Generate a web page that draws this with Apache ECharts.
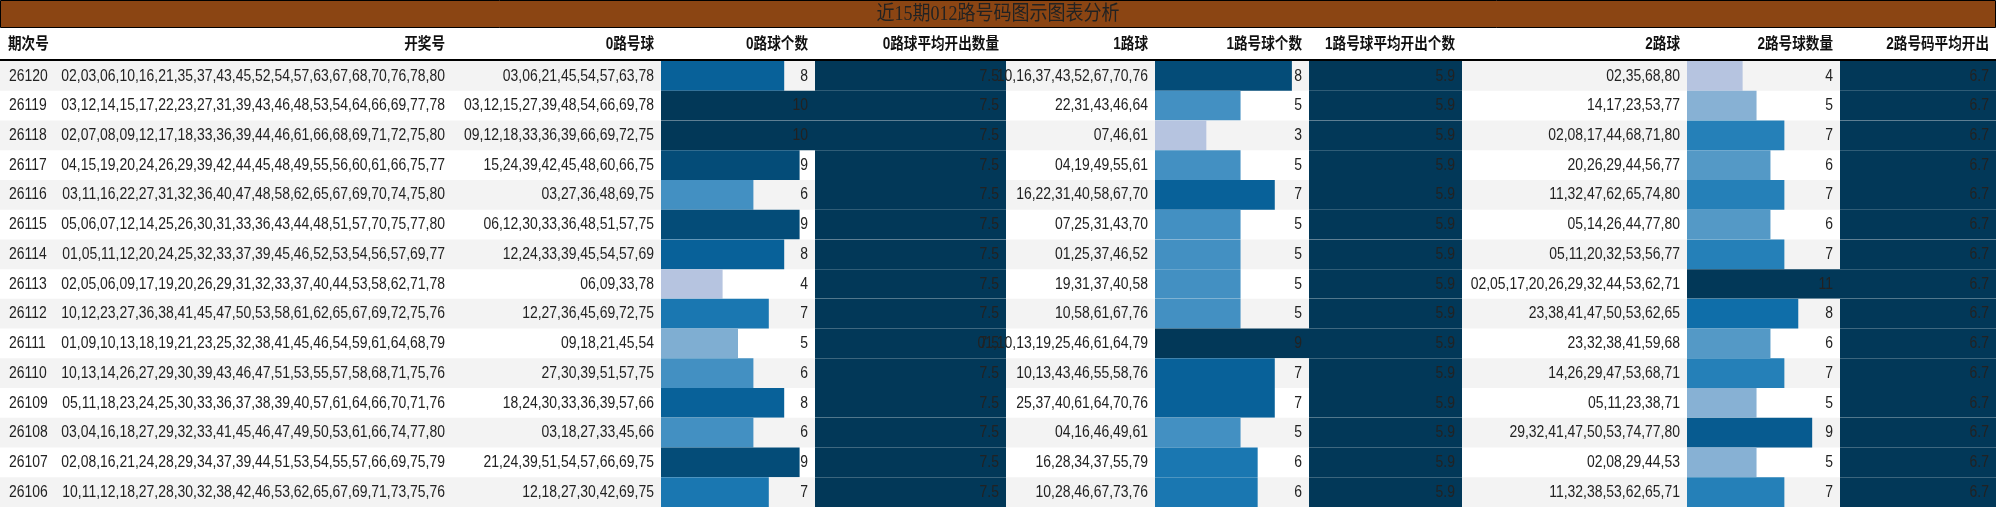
<!DOCTYPE html>
<html><head><meta charset="utf-8">
<script src="https://cdn.jsdelivr.net/npm/echarts@6/dist/echarts.min.js"></script>
<style>html,body{margin:0;padding:0;background:#fff}#c{width:1996px;height:514px}</style>
</head><body><div id="c"></div>
<script>
const titleText = '近15期012路号码图示图表分析';
const headers = ['期次号','开奖号','0路号球','0路球个数','0路球平均开出数量','1路球','1路号球个数','1路号球平均开出个数','2路球','2路号球数量','2路号码平均开出'];
const periods = ['26120','26119','26118','26117','26116','26115','26114','26113','26112','26111','26110','26109','26108','26107','26106'];
const draws = [
'02,03,06,10,16,21,35,37,43,45,52,54,57,63,67,68,70,76,78,80',
'03,12,14,15,17,22,23,27,31,39,43,46,48,53,54,64,66,69,77,78',
'02,07,08,09,12,17,18,33,36,39,44,46,61,66,68,69,71,72,75,80',
'04,15,19,20,24,26,29,39,42,44,45,48,49,55,56,60,61,66,75,77',
'03,11,16,22,27,31,32,36,40,47,48,58,62,65,67,69,70,74,75,80',
'05,06,07,12,14,25,26,30,31,33,36,43,44,48,51,57,70,75,77,80',
'01,05,11,12,20,24,25,32,33,37,39,45,46,52,53,54,56,57,69,77',
'02,05,06,09,17,19,20,26,29,31,32,33,37,40,44,53,58,62,71,78',
'10,12,23,27,36,38,41,45,47,50,53,58,61,62,65,67,69,72,75,76',
'01,09,10,13,18,19,21,23,25,32,38,41,45,46,54,59,61,64,68,79',
'10,13,14,26,27,29,30,39,43,46,47,51,53,55,57,58,68,71,75,76',
'05,11,18,23,24,25,30,33,36,37,38,39,40,57,61,64,66,70,71,76',
'03,04,16,18,27,29,32,33,41,45,46,47,49,50,53,61,66,74,77,80',
'02,08,16,21,24,28,29,34,37,39,44,51,53,54,55,57,66,69,75,79',
'10,11,12,18,27,28,30,32,38,42,46,53,62,65,67,69,71,73,75,76'];
const road0 = ['03,06,21,45,54,57,63,78','03,12,15,27,39,48,54,66,69,78','09,12,18,33,36,39,66,69,72,75','15,24,39,42,45,48,60,66,75','03,27,36,48,69,75','06,12,30,33,36,48,51,57,75','12,24,33,39,45,54,57,69','06,09,33,78','12,27,36,45,69,72,75','09,18,21,45,54','27,30,39,51,57,75','18,24,30,33,36,39,57,66','03,18,27,33,45,66','21,24,39,51,54,57,66,69,75','12,18,27,30,42,69,75'];
const count0 = [8,10,10,9,6,9,8,4,7,5,6,8,6,9,7];
const avg0 = [7.5,7.5,7.5,7.5,7.5,7.5,7.5,7.5,7.5,7.5,7.5,7.5,7.5,7.5,7.5];
const road1 = ['10,16,37,43,52,67,70,76','22,31,43,46,64','07,46,61','04,19,49,55,61','16,22,31,40,58,67,70','07,25,31,43,70','01,25,37,46,52','19,31,37,40,58','10,58,61,67,76','01,10,13,19,25,46,61,64,79','10,13,43,46,55,58,76','25,37,40,61,64,70,76','04,16,46,49,61','16,28,34,37,55,79','10,28,46,67,73,76'];
const count1 = [8,5,3,5,7,5,5,5,5,9,7,7,5,6,6];
const avg1 = [5.9,5.9,5.9,5.9,5.9,5.9,5.9,5.9,5.9,5.9,5.9,5.9,5.9,5.9,5.9];
const road2 = ['02,35,68,80','14,17,23,53,77','02,08,17,44,68,71,80','20,26,29,44,56,77','11,32,47,62,65,74,80','05,14,26,44,77,80','05,11,20,32,53,56,77','02,05,17,20,26,29,32,44,53,62,71','23,38,41,47,50,53,62,65','23,32,38,41,59,68','14,26,29,47,53,68,71','05,11,23,38,71','29,32,41,47,50,53,74,77,80','02,08,29,44,53','11,32,38,53,62,65,71'];
const count2 = [4,5,7,6,7,6,7,11,8,6,7,5,9,5,7];
const avg2 = [6.7,6.7,6.7,6.7,6.7,6.7,6.7,6.7,6.7,6.7,6.7,6.7,6.7,6.7,6.7];

const FONT = '"Liberation Sans",Arial,sans-serif';
const SX = 0.82;
const TOP = 61, ROWS_H = 446;
const cols = [
  {left:0,w:57,kind:'text',data:periods,align:'left'},
  {left:57,w:395,kind:'text',data:draws},
  {left:452,w:209,kind:'text',data:road0},
  {left:661,w:154,kind:'bar',data:count0,scale:true},
  {left:815,w:191,kind:'bar',data:avg0},
  {left:1006,w:149,kind:'text',data:road1},
  {left:1155,w:154,kind:'bar',data:count1,scale:true},
  {left:1309,w:153,kind:'bar',data:avg1},
  {left:1462,w:225,kind:'text',data:road2},
  {left:1687,w:153,kind:'bar',data:count2,scale:true},
  {left:1840,w:156,kind:'bar',data:avg2}
];
const grid=[],xAxis=[],yAxis=[],series=[],visualMap=[];
cols.forEach((c,ci)=>{
  grid.push({left:c.left,width:c.w,top:TOP,height:ROWS_H});
  const mx = c.kind==='bar'?Math.max(...c.data):1;
  xAxis.push({type:'value',gridIndex:ci,min:0,max:mx,show:false});
  yAxis.push({type:'category',gridIndex:ci,data:periods,inverse:true,show:false});
  const seriesIdx = series.length;
  series.push({
    type:'custom',xAxisIndex:ci,yAxisIndex:ci,
    data:c.data.map((v,i)=>[c.kind==='bar'?v:0,i]),
    renderItem:(params,api)=>{
      const i=api.value(1), v=api.value(0);
      const cs=params.coordSys;
      const yc=api.coord([0,i])[1], h=api.size([0,1])[1];
      const y0=yc-h/2;
      const children=[];
      if(i%2===0) children.push({type:'rect',shape:{x:cs.x,y:y0,width:cs.width,height:h},style:{fill:'#f3f3f3'}});
      let label;
      if(c.kind==='bar'){
        const xe=api.coord([v,i])[0];
        const col=c.scale?api.visual('color'):'#023858';
        children.push({type:'rect',shape:{x:cs.x,y:y0,width:xe-cs.x,height:h},style:{fill:col}});
        label=String(c.data[i]);
      } else label=c.data[i];
      const left=c.align==='left';
      children.push({type:'text',x:left?cs.x+9:cs.x+cs.width-7,y:yc,scaleX:SX,
        style:{text:label,x:0,y:0,align:left?'left':'right',verticalAlign:'middle',font:'17px '+FONT,fill:'#222'}});
      return {type:'group',children};
    }
  });
  if(c.scale){
    visualMap.push({show:false,seriesIndex:seriesIdx,dimension:0,min:Math.min(...c.data),max:Math.max(...c.data),
      inRange:{color:['#b6c4e0','#74a9cf','#2a84bb','#0a6aa6','#04507f','#023858']}});
  }
});
const graphic=[
  {type:'rect',shape:{x:0.5,y:0.5,width:1995,height:27},style:{fill:'#8B4513',stroke:'#000',lineWidth:1}},
  {type:'text',x:998,y:15,scaleX:0.9,style:{text:titleText,x:0,y:0,align:'center',verticalAlign:'middle',font:'20px "Liberation Serif","Noto Sans CJK SC",serif',fill:'#222'}},
  {type:'line',shape:{x1:0,y1:60,x2:1996,y2:60},style:{stroke:'#000',lineWidth:2}}
];
cols.forEach((c,ci)=>{
  const left=c.align==='left';
  graphic.push({type:'text',x:left?c.left+8:c.left+c.w-7,y:45,scaleX:0.85,style:{text:headers[ci],x:0,y:0,align:left?'left':'right',verticalAlign:'middle',
    font:'bold 16px "Liberation Sans","Noto Sans CJK SC",sans-serif',fill:'#111'}});
});
const chart=echarts.init(document.getElementById('c'));
chart.setOption({animation:false,backgroundColor:'#fff',grid,xAxis,yAxis,series,visualMap,graphic});
</script></body></html>
